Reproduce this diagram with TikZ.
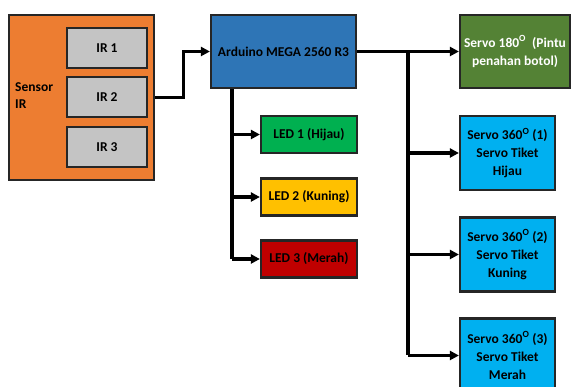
\documentclass[tikz,border=0pt]{standalone}
\usepackage{fontspec}
\setmainfont{Carlito}
\usepackage{xcolor}
\definecolor{sensororange}{RGB}{237,125,49}
\definecolor{irgray}{RGB}{196,196,196}
\definecolor{megablue}{RGB}{46,117,182}
\definecolor{servogreen}{RGB}{84,130,53}
\definecolor{ledgreen}{RGB}{0,176,80}
\definecolor{ledyellow}{RGB}{255,192,0}
\definecolor{ledred}{RGB}{192,0,0}
\definecolor{servocyan}{RGB}{0,176,240}
\usetikzlibrary{arrows.meta, positioning}
\tikzstyle{block}=[rectangle, draw=black!85, line width=2.2pt, inner sep=2pt,
  text centered, align=center, font=\bfseries\fontsize{13.5}{18}\selectfont]
\tikzstyle{wire}=[line width=3.2pt, color=black]
\tikzstyle{arrow}=[-{Triangle[length=9pt,width=9pt]}, line width=3.2pt, color=black]

\begin{document}
\begin{tikzpicture}[x=1pt, y=-1pt]
  \useasboundingbox (0,0) rectangle (574,387);
  % sensor group
  \node[block, fill=sensororange, minimum width=145pt, minimum height=165pt] (sensor) at (81.5,97.5) {};
  \node[font=\bfseries\fontsize{13.5}{17}\selectfont, align=left, anchor=west, inner sep=0pt] (sensorlbl) at (15,96) {Sensor\\IR};
  \node[block, fill=irgray, minimum width=80pt, minimum height=40pt] (ir1) at (107,48) {IR 1};
  \node[block, fill=irgray, minimum width=80pt, minimum height=40pt] (ir2) at (107,97) {IR 2};
  \node[block, fill=irgray, minimum width=80pt, minimum height=40pt] (ir3) at (107,147) {IR 3};
  % controller
  \node[block, fill=megablue, minimum width=145pt, minimum height=73pt] (mega) at (283.5,51.5) {Arduino MEGA 2560 R3};
  % leds
  \node[block, fill=ledgreen, minimum width=96pt, minimum height=37pt] (led1) at (309,134.5) {LED 1 (Hijau)};
  \node[block, fill=ledyellow, minimum width=96pt, minimum height=37pt] (led2) at (309,197) {LED 2 (Kuning)};
  \node[block, fill=ledred, minimum width=96pt, minimum height=37pt] (led3) at (309,259) {LED 3 (Merah)};
  % servos
  \node[block, fill=servogreen, text=white, minimum width=110pt, minimum height=73pt] (servo0) at (515,51.5) {Servo 180\textsuperscript{O}\ \ (Pintu\\penahan botol)};
  \node[block, fill=servocyan, minimum width=95pt, minimum height=74pt] (servo1) at (507.5,153) {Servo 360\textsuperscript{O} (1)\\Servo Tiket\\Hijau};
  \node[block, fill=servocyan, minimum width=95pt, minimum height=74pt] (servo2) at (507.5,254.5) {Servo 360\textsuperscript{O} (2)\\Servo Tiket\\Kuning};
  \node[block, fill=servocyan, minimum width=95pt, minimum height=74pt] (servo3) at (507.5,355.5) {Servo 360\textsuperscript{O} (3)\\Servo Tiket\\Merah};
  \coordinate (lbus) at (232,0);
  \coordinate (sbus) at (408,0);
  \draw[arrow] (sensor.east) -- ++(28,0) |- (mega.west);
  \draw[arrow] (mega.east) -- (servo0.west);
  \draw[wire] (mega.south -| lbus) -- (lbus |- led3.west);
  \draw[wire] (sbus |- mega.east) -- (sbus |- servo3.west);
  \foreach \n in {led1,led2,led3}
    \draw[arrow] (lbus |- \n.west) -- (\n.west);
  \foreach \n in {servo1,servo2,servo3}
    \draw[arrow] (sbus |- \n.west) -- (\n.west);
\end{tikzpicture}
\end{document}
